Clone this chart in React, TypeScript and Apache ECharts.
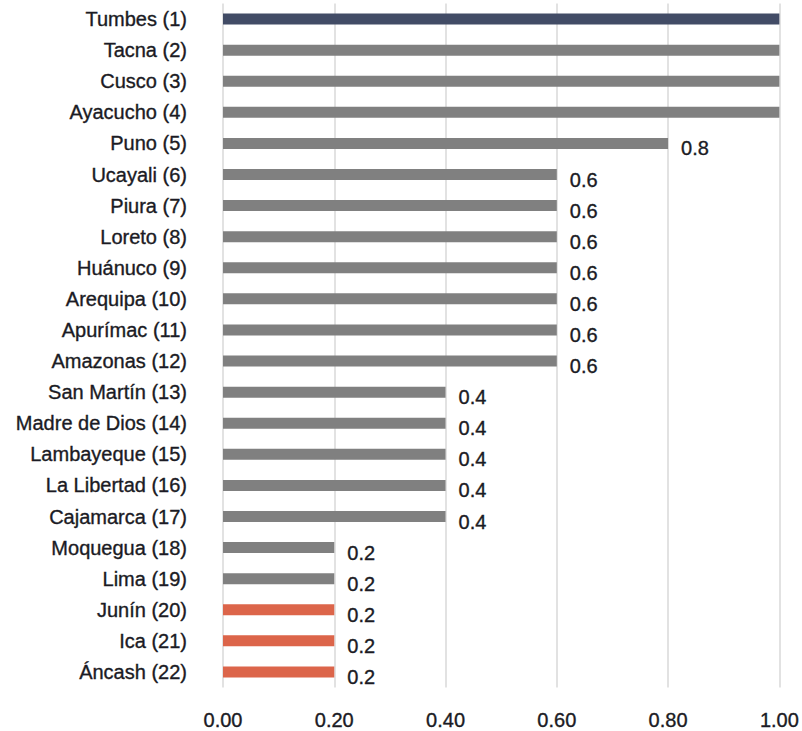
import React, { useEffect, useRef } from "react";
import * as echarts from "echarts";

const regions = [
  "Tumbes (1)", "Tacna (2)", "Cusco (3)", "Ayacucho (4)", "Puno (5)",
  "Ucayali (6)", "Piura (7)", "Loreto (8)", "Huánuco (9)", "Arequipa (10)",
  "Apurímac (11)", "Amazonas (12)", "San Martín (13)", "Madre de Dios (14)",
  "Lambayeque (15)", "La Libertad (16)", "Cajamarca (17)", "Moquegua (18)",
  "Lima (19)", "Junín (20)", "Ica (21)", "Áncash (22)",
];
const scores = [1, 1, 1, 1, 0.8, 0.6, 0.6, 0.6, 0.6, 0.6, 0.6, 0.6, 0.4, 0.4, 0.4, 0.4, 0.4, 0.2, 0.2, 0.2, 0.2, 0.2];
// highlight group per region: "top", "base" or "low"
const groups = [
  "top", "base", "base", "base", "base", "base", "base", "base", "base", "base", "base",
  "base", "base", "base", "base", "base", "base", "base", "base", "low", "low", "low",
];
const xTicks = [0, 0.2, 0.4, 0.6, 0.8, 1.0];

const COLORS: Record<string, string> = { top: "#424c66", base: "#808080", low: "#dc654a" };
const FONT = "'Liberation Sans', Arial, sans-serif";
const TEXT = "#1b1b24";
const textStyle = {
  fontFamily: FONT,
  fontSize: 20,
  color: TEXT,
  textBorderColor: TEXT,
  textBorderWidth: 0.35,
};

export default function App() {
  const ref = useRef<HTMLDivElement>(null);
  useEffect(() => {
    if (!ref.current) return;
    const chart = echarts.init(ref.current, undefined, { renderer: "svg" });
    chart.setOption({
      animation: false,
      grid: { left: 223, right: 19, top: 3.5, bottom: 43.5, containLabel: false },
      xAxis: {
        type: "value",
        min: xTicks[0],
        max: xTicks[xTicks.length - 1],
        interval: 0.2,
        axisLine: { show: false },
        axisTick: { show: false },
        splitLine: { show: true, lineStyle: { color: "#d9d9d9", width: 1.5 } },
        axisLabel: {
          ...textStyle,
          margin: 22,
          formatter: (v: number) => v.toFixed(2),
        },
      },
      yAxis: {
        type: "category",
        inverse: true,
        data: regions,
        axisLine: { show: false },
        axisTick: { show: false },
        axisLabel: { ...textStyle, margin: 36, padding: [6, 0, 0, 0] },
      },
      series: [
        {
          type: "bar",
          barWidth: 11,
          data: scores.map((v, i) => ({
            value: v,
            itemStyle: { color: COLORS[groups[i]] },
            label: {
              ...textStyle,
              show: v < 1,
              position: "right",
              distance: 13,
              offset: [0, 5],
              formatter: () => String(v),
            },
          })),
        },
      ],
    });
    return () => chart.dispose();
  }, []);
  return (
    <div
      ref={ref}
      style={{ position: "fixed", left: 0, top: 0, width: 802, height: 731, background: "#fff" }}
    />
  );
}
